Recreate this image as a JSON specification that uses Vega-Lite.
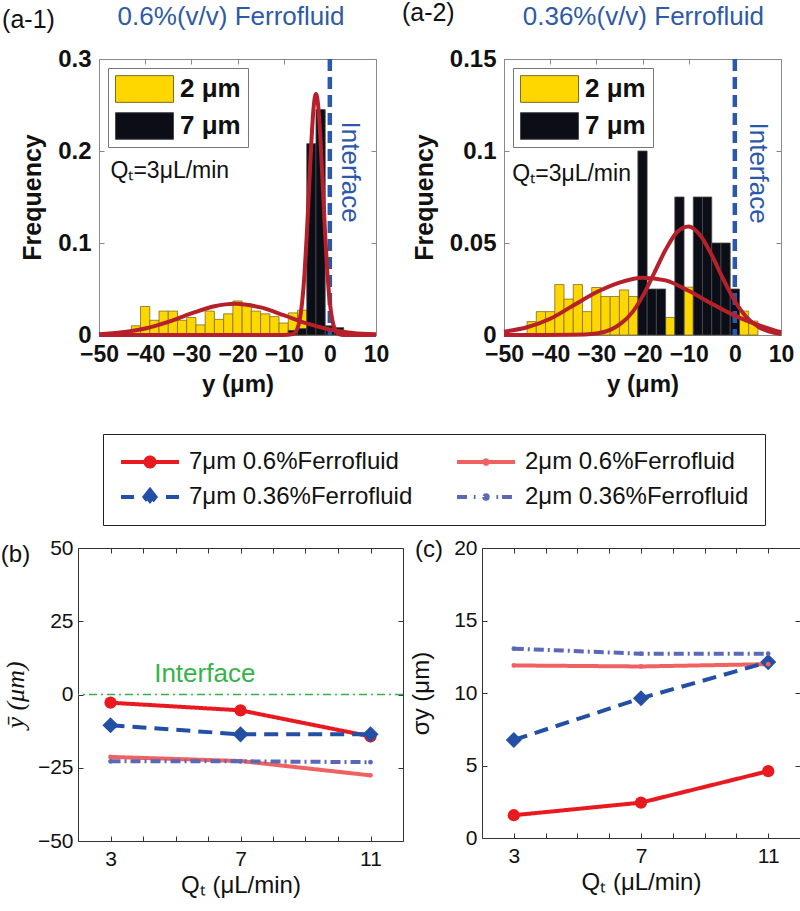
{
  "$schema": "https://vega.github.io/schema/vega-lite/v6.json",
  "padding": 0,
  "background": "white",
  "spacing": 36,
  "datasets": {
    "hist1": [
      {"s": "2 μm", "lo": -43, "hi": -41, "f": 0.010},
      {"s": "2 μm", "lo": -41, "hi": -39, "f": 0.031},
      {"s": "2 μm", "lo": -39, "hi": -37, "f": 0.016},
      {"s": "2 μm", "lo": -37, "hi": -35, "f": 0.026},
      {"s": "2 μm", "lo": -35, "hi": -33, "f": 0.026},
      {"s": "2 μm", "lo": -33, "hi": -31, "f": 0.016},
      {"s": "2 μm", "lo": -31, "hi": -29, "f": 0.019},
      {"s": "2 μm", "lo": -29, "hi": -27, "f": 0.011},
      {"s": "2 μm", "lo": -27, "hi": -25, "f": 0.026},
      {"s": "2 μm", "lo": -25, "hi": -23, "f": 0.017},
      {"s": "2 μm", "lo": -23, "hi": -21, "f": 0.023},
      {"s": "2 μm", "lo": -21, "hi": -19, "f": 0.037},
      {"s": "2 μm", "lo": -19, "hi": -17, "f": 0.034},
      {"s": "2 μm", "lo": -17, "hi": -15, "f": 0.026},
      {"s": "2 μm", "lo": -15, "hi": -13, "f": 0.023},
      {"s": "2 μm", "lo": -13, "hi": -11, "f": 0.020},
      {"s": "2 μm", "lo": -11, "hi": -9, "f": 0.013},
      {"s": "2 μm", "lo": -9, "hi": -7, "f": 0.024},
      {"s": "2 μm", "lo": -7, "hi": -5, "f": 0.027},
      {"s": "7 μm", "lo": -9, "hi": -7, "f": 0.005},
      {"s": "7 μm", "lo": -7, "hi": -5, "f": 0.007},
      {"s": "7 μm", "lo": -5, "hi": -3, "f": 0.208},
      {"s": "7 μm", "lo": -3, "hi": -1, "f": 0.245},
      {"s": "7 μm", "lo": -1, "hi": 1, "f": 0.010},
      {"s": "7 μm", "lo": 1, "hi": 3, "f": 0.008}
    ],
    "hist2": [
      {"s": "2 μm", "lo": -45, "hi": -43, "f": 0.0073},
      {"s": "2 μm", "lo": -43, "hi": -41, "f": 0.0127},
      {"s": "2 μm", "lo": -41, "hi": -39, "f": 0.0127},
      {"s": "2 μm", "lo": -39, "hi": -37, "f": 0.0274},
      {"s": "2 μm", "lo": -37, "hi": -35, "f": 0.0195},
      {"s": "2 μm", "lo": -35, "hi": -33, "f": 0.0274},
      {"s": "2 μm", "lo": -33, "hi": -31, "f": 0.0127},
      {"s": "2 μm", "lo": -31, "hi": -29, "f": 0.0258},
      {"s": "2 μm", "lo": -29, "hi": -27, "f": 0.0209},
      {"s": "2 μm", "lo": -27, "hi": -25, "f": 0.0209},
      {"s": "2 μm", "lo": -25, "hi": -23, "f": 0.0245},
      {"s": "2 μm", "lo": -23, "hi": -21, "f": 0.0209},
      {"s": "2 μm", "lo": -15, "hi": -13, "f": 0.0095},
      {"s": "2 μm", "lo": -11, "hi": -9, "f": 0.026},
      {"s": "2 μm", "lo": 1, "hi": 3, "f": 0.013},
      {"s": "2 μm", "lo": 3, "hi": 5, "f": 0.0076},
      {"s": "7 μm", "lo": -21, "hi": -19, "f": 0.1},
      {"s": "7 μm", "lo": -19, "hi": -17, "f": 0.025},
      {"s": "7 μm", "lo": -17, "hi": -15, "f": 0.025},
      {"s": "7 μm", "lo": -13, "hi": -11, "f": 0.075},
      {"s": "7 μm", "lo": -9, "hi": -7, "f": 0.075},
      {"s": "7 μm", "lo": -7, "hi": -5, "f": 0.075},
      {"s": "7 μm", "lo": -5, "hi": -3, "f": 0.05},
      {"s": "7 μm", "lo": -3, "hi": -1, "f": 0.05},
      {"s": "7 μm", "lo": -1, "hi": 1, "f": 0.025}
    ],
    "fit1": [
      {"s": "2 μm", "x": -50, "f": 0.0009},
      {"s": "2 μm", "x": -45, "f": 0.0029},
      {"s": "2 μm", "x": -40, "f": 0.0071},
      {"s": "2 μm", "x": -35, "f": 0.0143},
      {"s": "2 μm", "x": -30, "f": 0.0234},
      {"s": "2 μm", "x": -25, "f": 0.0313},
      {"s": "2 μm", "x": -20.5, "f": 0.034},
      {"s": "2 μm", "x": -15, "f": 0.030},
      {"s": "2 μm", "x": -10, "f": 0.0216},
      {"s": "2 μm", "x": -5, "f": 0.0126},
      {"s": "2 μm", "x": 0, "f": 0.006},
      {"s": "2 μm", "x": 5, "f": 0.0023},
      {"s": "2 μm", "x": 10, "f": 0.0007},
      {"s": "7 μm", "x": -50, "f": 0},
      {"s": "7 μm", "x": -10, "f": 0},
      {"s": "7 μm", "x": -8, "f": 0.001},
      {"s": "7 μm", "x": -7, "f": 0.0075},
      {"s": "7 μm", "x": -6.5, "f": 0.0172},
      {"s": "7 μm", "x": -6, "f": 0.0355},
      {"s": "7 μm", "x": -5.5, "f": 0.065},
      {"s": "7 μm", "x": -5, "f": 0.108},
      {"s": "7 μm", "x": -4.5, "f": 0.159},
      {"s": "7 μm", "x": -4, "f": 0.210},
      {"s": "7 μm", "x": -3.5, "f": 0.248},
      {"s": "7 μm", "x": -3, "f": 0.262},
      {"s": "7 μm", "x": -2.5, "f": 0.248},
      {"s": "7 μm", "x": -2, "f": 0.210},
      {"s": "7 μm", "x": -1.5, "f": 0.159},
      {"s": "7 μm", "x": -1, "f": 0.108},
      {"s": "7 μm", "x": -0.5, "f": 0.065},
      {"s": "7 μm", "x": 0, "f": 0.0355},
      {"s": "7 μm", "x": 0.5, "f": 0.0172},
      {"s": "7 μm", "x": 1, "f": 0.0075},
      {"s": "7 μm", "x": 2, "f": 0.001},
      {"s": "7 μm", "x": 3, "f": 0},
      {"s": "7 μm", "x": 10, "f": 0}
    ],
    "fit2": [
      {"s": "2 μm", "x": -50, "f": 0.0018},
      {"s": "2 μm", "x": -45, "f": 0.0042},
      {"s": "2 μm", "x": -40, "f": 0.0088},
      {"s": "2 μm", "x": -35, "f": 0.0160},
      {"s": "2 μm", "x": -30, "f": 0.0232},
      {"s": "2 μm", "x": -25, "f": 0.0285},
      {"s": "2 μm", "x": -20, "f": 0.0311},
      {"s": "2 μm", "x": -15, "f": 0.0297},
      {"s": "2 μm", "x": -10, "f": 0.0240},
      {"s": "2 μm", "x": -5, "f": 0.0170},
      {"s": "2 μm", "x": 0, "f": 0.0105},
      {"s": "2 μm", "x": 5, "f": 0.0055},
      {"s": "2 μm", "x": 10, "f": 0.0015},
      {"s": "7 μm", "x": -50, "f": 0},
      {"s": "7 μm", "x": -35, "f": 0.0001},
      {"s": "7 μm", "x": -30, "f": 0.0008},
      {"s": "7 μm", "x": -27, "f": 0.0028},
      {"s": "7 μm", "x": -25, "f": 0.0056},
      {"s": "7 μm", "x": -22, "f": 0.013},
      {"s": "7 μm", "x": -20, "f": 0.021},
      {"s": "7 μm", "x": -17.5, "f": 0.0335},
      {"s": "7 μm", "x": -15, "f": 0.0463},
      {"s": "7 μm", "x": -12.5, "f": 0.056},
      {"s": "7 μm", "x": -10, "f": 0.059},
      {"s": "7 μm", "x": -7.5, "f": 0.0542},
      {"s": "7 μm", "x": -5, "f": 0.0434},
      {"s": "7 μm", "x": -2.5, "f": 0.0303},
      {"s": "7 μm", "x": 0, "f": 0.0185},
      {"s": "7 μm", "x": 2.5, "f": 0.0098},
      {"s": "7 μm", "x": 5, "f": 0.0046},
      {"s": "7 μm", "x": 7.5, "f": 0.0018},
      {"s": "7 μm", "x": 10, "f": 0.0006}
    ],
    "stats": [
      {"series": "2μm 0.6%Ferrofluid", "Qt": 3, "mean": -21.3, "sigma": 11.9},
      {"series": "2μm 0.6%Ferrofluid", "Qt": 7, "mean": -22.7, "sigma": 11.83},
      {"series": "2μm 0.6%Ferrofluid", "Qt": 11, "mean": -27.6, "sigma": 11.99},
      {"series": "2μm 0.36%Ferrofluid", "Qt": 3, "mean": -22.8, "sigma": 13.06},
      {"series": "2μm 0.36%Ferrofluid", "Qt": 7, "mean": -22.8, "sigma": 12.71},
      {"series": "2μm 0.36%Ferrofluid", "Qt": 11, "mean": -23.1, "sigma": 12.71},
      {"series": "7μm 0.6%Ferrofluid", "Qt": 3, "mean": -2.8, "sigma": 1.57},
      {"series": "7μm 0.6%Ferrofluid", "Qt": 7, "mean": -5.4, "sigma": 2.44},
      {"series": "7μm 0.6%Ferrofluid", "Qt": 11, "mean": -14.3, "sigma": 4.61},
      {"series": "7μm 0.36%Ferrofluid", "Qt": 3, "mean": -10.5, "sigma": 6.76},
      {"series": "7μm 0.36%Ferrofluid", "Qt": 7, "mean": -13.6, "sigma": 9.64},
      {"series": "7μm 0.36%Ferrofluid", "Qt": 11, "mean": -13.6, "sigma": 12.13}
    ]
  },
  "config": {
    "font": "Liberation Sans",
    "view": {"stroke": "#888"},
    "axis": {"grid": false, "domain": false, "labelFont": "Liberation Sans", "titleFont": "Liberation Sans", "labelColor": "#111", "titleColor": "#111", "labelFlush": false, "labelOverlap": false, "tickSize": -5, "tickWidth": 1},
    "text": {"font": "Liberation Sans"}
  },
  "vconcat": [
    {
      "hconcat": [
        {
          "width": 1, "height": 1,
          "view": {"stroke": null},
          "data": {"values": [{}]},
          "mark": {"type": "text"},
          "encoding": {"text": {"value": ""}}
        },
        {
          "hconcat": [
            {
              "width": 277, "height": 276,
              "view": {"stroke": "#8a8a8a"},
              "resolve": {"axis": {"x": "independent", "y": "independent"}},
              "layer": [
                {
                  "data": {"name": "hist1"},
                  "mark": {"type": "bar", "strokeWidth": 0.8},
                  "encoding": {
                    "x": {"field": "lo", "type": "quantitative", "scale": {"domain": [-50, 10], "nice": false, "zero": false},
                      "axis": {"orient": "bottom", "values": [-50, -40, -30, -20, -10, 0, 10], "title": "y (μm)", "titleFontSize": 24, "titleFontWeight": "bold", "labelFontSize": 23, "labelFontWeight": "bold", "labelPadding": 13, "titlePadding": 6, "tickColor": "#888"}},
                    "x2": {"field": "hi"},
                    "y": {"field": "f", "type": "quantitative", "scale": {"domain": [0, 0.3], "nice": false, "zero": false},
                      "axis": {"orient": "left", "values": [0, 0.1, 0.2, 0.3], "format": ".2~f", "title": "Frequency", "titleFontSize": 25, "titleFontWeight": "bold", "labelFontSize": 24, "labelFontWeight": "bold", "labelPadding": 13, "titlePadding": 12, "tickColor": "#888"}},
                    "y2": {"datum": 0},
                    "fill": {"field": "s", "type": "nominal", "scale": {"domain": ["2 μm", "7 μm"], "range": ["#ffd700", "#0b0d17"]},
                      "legend": {"orient": "top-left", "offset": 9, "title": null, "symbolType": "M-1,-0.46H1V0.46H-1Z", "symbolSize": 3364, "symbolStrokeColor": "#444", "symbolStrokeWidth": 1, "labelFontSize": 26, "labelFontWeight": "bold", "labelColor": "#111", "labelFont": "Liberation Sans", "labelOffset": 6, "padding": 7, "rowPadding": 9, "clipHeight": 28, "strokeColor": "#777", "fillColor": "white"}},
                    "stroke": {"field": "s", "type": "nominal", "scale": {"domain": ["2 μm", "7 μm"], "range": ["#7d6d1a", "#4a4a4a"]}, "legend": null}
                  }
                },
                {
                  "data": {"values": [{}]},
                  "mark": {"type": "rule", "color": "#2c58ab", "strokeWidth": 4.5, "strokeDash": [12, 6]},
                  "encoding": {"x": {"datum": 0, "scale": {"domain": [-50, 10], "nice": false, "zero": false}, "axis": null}}
                },
                {
                  "data": {"name": "fit1"},
                  "mark": {"type": "line", "color": "#b5202a", "strokeWidth": 4, "interpolate": "monotone"},
                  "encoding": {
                    "x": {"field": "x", "type": "quantitative", "scale": {"domain": [-50, 10], "nice": false, "zero": false},
                      "axis": {"orient": "top", "values": [-50, -40, -30, -20, -10, 0, 10], "labels": false, "title": null, "tickColor": "#888"}},
                    "y": {"field": "f", "type": "quantitative", "scale": {"domain": [0, 0.3], "nice": false, "zero": false},
                      "axis": {"orient": "right", "values": [0, 0.1, 0.2, 0.3], "labels": false, "title": null, "tickColor": "#888"}},
                    "detail": {"field": "s"}
                  }
                },
                {
                  "data": {"values": [{}]},
                  "mark": {"type": "text", "fontSize": 23, "color": "#111", "align": "left", "baseline": "middle"},
                  "encoding": {
                    "x": {"datum": -47.5, "scale": {"domain": [-50, 10], "nice": false, "zero": false}, "axis": null},
                    "y": {"datum": 0.178, "scale": {"domain": [0, 0.3], "nice": false, "zero": false}, "axis": null},
                    "text": {"value": "Qₜ=3μL/min"}
                  }
                },
                {
                  "data": {"values": [{}]},
                  "mark": {"type": "text", "fontSize": 26, "color": "#2c58ab", "align": "center", "baseline": "middle", "angle": 90},
                  "encoding": {
                    "x": {"datum": 4.4, "scale": {"domain": [-50, 10], "nice": false, "zero": false}, "axis": null},
                    "y": {"datum": 0.177, "scale": {"domain": [0, 0.3], "nice": false, "zero": false}, "axis": null},
                    "text": {"value": "Interface"}
                  }
                },
                {
                  "data": {"values": [{}]},
                  "mark": {"type": "text", "fontSize": 25, "color": "#111", "align": "center", "baseline": "middle"},
                  "encoding": {
                    "x": {"datum": -65.27, "scale": {"domain": [-50, 10], "nice": false, "zero": false}, "axis": null},
                    "y": {"datum": 0.342, "scale": {"domain": [0, 0.3], "nice": false, "zero": false}, "axis": null},
                    "text": {"value": "(a-1)"}
                  }
                },
                {
                  "data": {"values": [{}]},
                  "mark": {"type": "text", "fontSize": 26, "color": "#2e5aa8", "align": "center", "baseline": "middle"},
                  "encoding": {
                    "x": {"datum": -21.4, "scale": {"domain": [-50, 10], "nice": false, "zero": false}, "axis": null},
                    "y": {"datum": 0.3457, "scale": {"domain": [0, 0.3], "nice": false, "zero": false}, "axis": null},
                    "text": {"value": "0.6%(v/v) Ferrofluid"}
                  }
                }
              ]
            },
            {
              "width": 277, "height": 276,
              "view": {"stroke": "#8a8a8a"},
              "resolve": {"axis": {"x": "independent", "y": "independent"}},
              "layer": [
                {
                  "data": {"name": "hist2"},
                  "mark": {"type": "bar", "strokeWidth": 0.8},
                  "encoding": {
                    "x": {"field": "lo", "type": "quantitative", "scale": {"domain": [-50, 10], "nice": false, "zero": false},
                      "axis": {"orient": "bottom", "values": [-50, -40, -30, -20, -10, 0, 10], "title": "y (μm)", "titleFontSize": 24, "titleFontWeight": "bold", "labelFontSize": 23, "labelFontWeight": "bold", "labelPadding": 13, "titlePadding": 6, "tickColor": "#888"}},
                    "x2": {"field": "hi"},
                    "y": {"field": "f", "type": "quantitative", "scale": {"domain": [0, 0.15], "nice": false, "zero": false},
                      "axis": {"orient": "left", "values": [0, 0.05, 0.1, 0.15], "format": ".2~f", "title": "Frequency", "titleFontSize": 25, "titleFontWeight": "bold", "labelFontSize": 24, "labelFontWeight": "bold", "labelPadding": 13, "titlePadding": 12, "tickColor": "#888"}},
                    "y2": {"datum": 0},
                    "fill": {"field": "s", "type": "nominal", "scale": {"domain": ["2 μm", "7 μm"], "range": ["#ffd700", "#0b0d17"]},
                      "legend": {"orient": "top-left", "offset": 9, "title": null, "symbolType": "M-1,-0.46H1V0.46H-1Z", "symbolSize": 3364, "symbolStrokeColor": "#444", "symbolStrokeWidth": 1, "labelFontSize": 26, "labelFontWeight": "bold", "labelColor": "#111", "labelFont": "Liberation Sans", "labelOffset": 6, "padding": 7, "rowPadding": 9, "clipHeight": 28, "strokeColor": "#777", "fillColor": "white"}},
                    "stroke": {"field": "s", "type": "nominal", "scale": {"domain": ["2 μm", "7 μm"], "range": ["#7d6d1a", "#4a4a4a"]}, "legend": null}
                  }
                },
                {
                  "data": {"values": [{}]},
                  "mark": {"type": "rule", "color": "#2c58ab", "strokeWidth": 4.5, "strokeDash": [12, 6]},
                  "encoding": {"x": {"datum": 0, "scale": {"domain": [-50, 10], "nice": false, "zero": false}, "axis": null}}
                },
                {
                  "data": {"name": "fit2"},
                  "mark": {"type": "line", "color": "#b5202a", "strokeWidth": 4, "interpolate": "monotone"},
                  "encoding": {
                    "x": {"field": "x", "type": "quantitative", "scale": {"domain": [-50, 10], "nice": false, "zero": false},
                      "axis": {"orient": "top", "values": [-50, -40, -30, -20, -10, 0, 10], "labels": false, "title": null, "tickColor": "#888"}},
                    "y": {"field": "f", "type": "quantitative", "scale": {"domain": [0, 0.15], "nice": false, "zero": false},
                      "axis": {"orient": "right", "values": [0, 0.05, 0.1, 0.15], "labels": false, "title": null, "tickColor": "#888"}},
                    "detail": {"field": "s"}
                  }
                },
                {
                  "data": {"values": [{}]},
                  "mark": {"type": "text", "fontSize": 23, "color": "#111", "align": "left", "baseline": "middle"},
                  "encoding": {
                    "x": {"datum": -48.2, "scale": {"domain": [-50, 10], "nice": false, "zero": false}, "axis": null},
                    "y": {"datum": 0.0875, "scale": {"domain": [0, 0.15], "nice": false, "zero": false}, "axis": null},
                    "text": {"value": "Qₜ=3μL/min"}
                  }
                },
                {
                  "data": {"values": [{}]},
                  "mark": {"type": "text", "fontSize": 26, "color": "#2c58ab", "align": "center", "baseline": "middle", "angle": 90},
                  "encoding": {
                    "x": {"datum": 5.0, "scale": {"domain": [-50, 10], "nice": false, "zero": false}, "axis": null},
                    "y": {"datum": 0.088, "scale": {"domain": [0, 0.15], "nice": false, "zero": false}, "axis": null},
                    "text": {"value": "Interface"}
                  }
                },
                {
                  "data": {"values": [{}]},
                  "mark": {"type": "text", "fontSize": 25, "color": "#111", "align": "center", "baseline": "middle"},
                  "encoding": {
                    "x": {"datum": -66.4, "scale": {"domain": [-50, 10], "nice": false, "zero": false}, "axis": null},
                    "y": {"datum": 0.175, "scale": {"domain": [0, 0.15], "nice": false, "zero": false}, "axis": null},
                    "text": {"value": "(a-2)"}
                  }
                },
                {
                  "data": {"values": [{}]},
                  "mark": {"type": "text", "fontSize": 26, "color": "#2e5aa8", "align": "center", "baseline": "middle"},
                  "encoding": {
                    "x": {"datum": -19.8, "scale": {"domain": [-50, 10], "nice": false, "zero": false}, "axis": null},
                    "y": {"datum": 0.1728, "scale": {"domain": [0, 0.15], "nice": false, "zero": false}, "axis": null},
                    "text": {"value": "0.36%(v/v) Ferrofluid"}
                  }
                }
              ]
            }
          ],
          "spacing": 128,
          "bounds": "flush",
          "resolve": {"scale": {"fill": "independent", "stroke": "independent", "x": "independent", "y": "independent"}, "legend": {"fill": "independent"}}
        }
      ],
      "spacing": 20,
      "bounds": "flush",
      "resolve": {"scale": {"fill": "independent", "stroke": "independent", "x": "independent", "y": "independent"}, "legend": {"fill": "independent"}}
    },
    {
      "hconcat": [
        {
          "width": 325, "height": 293,
          "view": {"stroke": "#333"},
          "resolve": {"axis": {"x": "independent", "y": "independent"}},
          "layer": [
            {
              "data": {"values": [{}]},
              "mark": {"type": "rule", "color": "#36b34a", "strokeWidth": 1.5, "strokeDash": [8, 4, 2, 4]},
              "encoding": {"y": {"datum": 0, "scale": {"domain": [-50, 50], "nice": false, "zero": false}, "axis": null}}
            },
            {
              "data": {"name": "stats"},
              "mark": {"type": "line"},
              "encoding": {
                "x": {"field": "Qt", "type": "quantitative", "scale": {"domain": [2, 12], "nice": false, "zero": false},
                  "axis": {"orient": "bottom", "values": [3, 4, 5, 6, 7, 8, 9, 10, 11], "labelExpr": "(datum.value == 3 || datum.value == 7 || datum.value == 11) ? datum.label : ''", "title": "Qₜ (μL/min)", "labelFontSize": 21, "titleFontSize": 24, "titleFontWeight": "normal", "labelPadding": 12, "titlePadding": 4, "tickColor": "#333"}},
                "y": {"field": "mean", "type": "quantitative", "scale": {"domain": [-50, 50], "nice": false, "zero": false},
                  "axis": {"orient": "left", "values": [-50, -25, 0, 25, 50], "title": "ȳ (μm)", "titleFont": "Liberation Serif", "titleFontStyle": "italic", "titleFontWeight": "normal", "titleFontSize": 26, "labelFontSize": 21, "labelPadding": 10, "titlePadding": 9, "tickColor": "#333"}},
                "color": {"field": "series", "type": "nominal",
                  "scale": {"domain": ["7μm 0.6%Ferrofluid", "7μm 0.36%Ferrofluid", "2μm 0.6%Ferrofluid", "2μm 0.36%Ferrofluid"], "range": ["#e8191f", "#2350a5", "#f06262", "#5b68b5"]},
                  "legend": {"orient": "none", "legendX": 25, "legendY": -114, "columns": 2, "title": null, "padding": 16, "columnPadding": 42, "rowPadding": 11, "clipHeight": 24, "symbolOpacity": 1, "symbolStrokeWidth": 3, "labelFont": "Liberation Sans", "labelFontSize": 24, "labelColor": "#111", "labelOffset": 8, "labelLimit": 0, "strokeColor": "#222", "fillColor": "white"}},
                "strokeDash": {"field": "series", "type": "nominal",
                  "scale": {"domain": ["7μm 0.6%Ferrofluid", "7μm 0.36%Ferrofluid", "2μm 0.6%Ferrofluid", "2μm 0.36%Ferrofluid"], "range": [[1, 0], [14, 8], [1, 0], [10, 4, 2, 4]]}, "legend": null},
                "strokeWidth": {"field": "series", "type": "ordinal",
                  "scale": {"domain": ["7μm 0.6%Ferrofluid", "7μm 0.36%Ferrofluid", "2μm 0.6%Ferrofluid", "2μm 0.36%Ferrofluid"], "range": [4, 4, 1.5, 1.5]}, "legend": null}
              }
            },
            {
              "data": {"name": "stats"},
              "mark": {"type": "point", "filled": true, "opacity": 0},
              "encoding": {
                "x": {"field": "Qt", "type": "quantitative", "scale": {"domain": [2, 12], "nice": false, "zero": false}, "axis": null},
                "y": {"field": "mean", "type": "quantitative", "scale": {"domain": [-50, 50], "nice": false, "zero": false}, "axis": null},
                "color": {"field": "series", "type": "nominal",
                  "scale": {"domain": ["7μm 0.6%Ferrofluid", "7μm 0.36%Ferrofluid", "2μm 0.6%Ferrofluid", "2μm 0.36%Ferrofluid"], "range": ["#e8191f", "#2350a5", "#f06262", "#5b68b5"]}},
                "shape": {"field": "series", "type": "nominal",
                  "scale": {"domain": ["7μm 0.6%Ferrofluid", "7μm 0.36%Ferrofluid", "2μm 0.6%Ferrofluid", "2μm 0.36%Ferrofluid"],
                    "range": ["M-1,0H1M-0.155,0A0.155,0.155,0,1,0,0.155,0A0.155,0.155,0,1,0,-0.155,0Z", "M-1,0H-0.55M0.55,0H1M0,-0.24L0.19,0L0,0.24L-0.19,0Z", "M-1,0H1M-0.06,0A0.06,0.06,0,1,0,0.06,0A0.06,0.06,0,1,0,-0.06,0Z", "M-1,0H-0.55M-0.42,0H-0.36M0.36,0H0.42M0.55,0H1M-0.06,0A0.06,0.06,0,1,0,0.06,0A0.06,0.06,0,1,0,-0.06,0Z"]}, "legend": null},
                "size": {"field": "series", "type": "ordinal",
                  "scale": {"domain": ["7μm 0.6%Ferrofluid", "7μm 0.36%Ferrofluid", "2μm 0.6%Ferrofluid", "2μm 0.36%Ferrofluid"], "range": [3364, 3364, 3364, 3364]}, "legend": null}
              }
            },
            {
              "data": {"name": "stats"},
              "transform": [{"filter": "datum.series === '2μm 0.6%Ferrofluid'"}],
              "mark": {"type": "point", "filled": true, "opacity": 1, "shape": "circle", "size": 22, "color": "#f06262"},
              "encoding": {
                "x": {"field": "Qt", "type": "quantitative", "scale": {"domain": [2, 12], "nice": false, "zero": false},
                  "axis": {"orient": "top", "values": [3, 4, 5, 6, 7, 8, 9, 10, 11], "labels": false, "title": null, "tickColor": "#333"}},
                "y": {"field": "mean", "type": "quantitative", "scale": {"domain": [-50, 50], "nice": false, "zero": false},
                  "axis": {"orient": "right", "values": [-50, -25, 0, 25, 50], "labels": false, "title": null, "tickColor": "#333"}}
              }
            },
            {
              "data": {"name": "stats"},
              "transform": [{"filter": "datum.series === '2μm 0.36%Ferrofluid'"}],
              "mark": {"type": "point", "filled": true, "opacity": 1, "shape": "circle", "size": 22, "color": "#5b68b5"},
              "encoding": {
                "x": {"field": "Qt", "type": "quantitative", "scale": {"domain": [2, 12], "nice": false, "zero": false}, "axis": null},
                "y": {"field": "mean", "type": "quantitative", "scale": {"domain": [-50, 50], "nice": false, "zero": false}, "axis": null}
              }
            },
            {
              "data": {"name": "stats"},
              "transform": [{"filter": "datum.series === '7μm 0.6%Ferrofluid'"}],
              "mark": {"type": "point", "filled": true, "opacity": 1, "shape": "circle", "size": 150, "color": "#e8191f"},
              "encoding": {
                "x": {"field": "Qt", "type": "quantitative", "scale": {"domain": [2, 12], "nice": false, "zero": false}, "axis": null},
                "y": {"field": "mean", "type": "quantitative", "scale": {"domain": [-50, 50], "nice": false, "zero": false}, "axis": null}
              }
            },
            {
              "data": {"name": "stats"},
              "transform": [{"filter": "datum.series === '7μm 0.36%Ferrofluid'"}],
              "mark": {"type": "point", "filled": true, "opacity": 1, "shape": "diamond", "size": 260, "color": "#2350a5"},
              "encoding": {
                "x": {"field": "Qt", "type": "quantitative", "scale": {"domain": [2, 12], "nice": false, "zero": false}, "axis": null},
                "y": {"field": "mean", "type": "quantitative", "scale": {"domain": [-50, 50], "nice": false, "zero": false}, "axis": null}
              }
            },
            {
              "data": {"values": [{}]},
              "mark": {"type": "text", "fontSize": 26, "color": "#36b34a", "align": "center", "baseline": "middle"},
              "encoding": {
                "x": {"datum": 5.9, "scale": {"domain": [2, 12], "nice": false, "zero": false}, "axis": null},
                "y": {"datum": 7.0, "scale": {"domain": [-50, 50], "nice": false, "zero": false}, "axis": null},
                "text": {"value": "Interface"}
              }
            },
            {
              "data": {"values": [{}]},
              "mark": {"type": "text", "fontSize": 24, "color": "#111", "align": "center", "baseline": "middle"},
              "encoding": {
                "x": {"datum": 0.077, "scale": {"domain": [2, 12], "nice": false, "zero": false}, "axis": null},
                "y": {"datum": 47.6, "scale": {"domain": [-50, 50], "nice": false, "zero": false}, "axis": null},
                "text": {"value": "(b)"}
              }
            }
          ]
        },
        {
          "width": 318, "height": 290,
          "view": {"stroke": "#333"},
          "resolve": {"axis": {"x": "independent", "y": "independent"}},
          "layer": [
            {
              "data": {"name": "stats"},
              "mark": {"type": "line"},
              "encoding": {
                "x": {"field": "Qt", "type": "quantitative", "scale": {"domain": [2, 12], "nice": false, "zero": false},
                  "axis": {"orient": "bottom", "values": [3, 4, 5, 6, 7, 8, 9, 10, 11], "labelExpr": "(datum.value == 3 || datum.value == 7 || datum.value == 11) ? datum.label : ''", "title": "Qₜ (μL/min)", "labelFontSize": 21, "titleFontSize": 24, "titleFontWeight": "normal", "labelPadding": 12, "titlePadding": 4, "tickColor": "#333"}},
                "y": {"field": "sigma", "type": "quantitative", "scale": {"domain": [0, 20], "nice": false, "zero": false},
                  "axis": {"orient": "left", "values": [0, 5, 10, 15, 20], "title": "σy (μm)", "titleFontWeight": "normal", "titleFontSize": 24, "labelFontSize": 21, "labelPadding": 10, "titlePadding": 20, "tickColor": "#333"}},
                "color": {"field": "series", "type": "nominal",
                  "scale": {"domain": ["7μm 0.6%Ferrofluid", "7μm 0.36%Ferrofluid", "2μm 0.6%Ferrofluid", "2μm 0.36%Ferrofluid"], "range": ["#e8191f", "#2350a5", "#f06262", "#5b68b5"]}, "legend": null},
                "strokeDash": {"field": "series", "type": "nominal",
                  "scale": {"domain": ["7μm 0.6%Ferrofluid", "7μm 0.36%Ferrofluid", "2μm 0.6%Ferrofluid", "2μm 0.36%Ferrofluid"], "range": [[1, 0], [14, 8], [1, 0], [10, 4, 2, 4]]}, "legend": null},
                "strokeWidth": {"field": "series", "type": "ordinal",
                  "scale": {"domain": ["7μm 0.6%Ferrofluid", "7μm 0.36%Ferrofluid", "2μm 0.6%Ferrofluid", "2μm 0.36%Ferrofluid"], "range": [4, 4, 1.5, 1.5]}, "legend": null}
              }
            },
            {
              "data": {"name": "stats"},
              "transform": [{"filter": "datum.series === '7μm 0.36%Ferrofluid'"}],
              "mark": {"type": "point", "filled": true, "opacity": 1, "shape": "diamond", "size": 260, "color": "#2350a5"},
              "encoding": {
                "x": {"field": "Qt", "type": "quantitative", "scale": {"domain": [2, 12], "nice": false, "zero": false},
                  "axis": {"orient": "top", "values": [3, 4, 5, 6, 7, 8, 9, 10, 11], "labels": false, "title": null, "tickColor": "#333"}},
                "y": {"field": "sigma", "type": "quantitative", "scale": {"domain": [0, 20], "nice": false, "zero": false},
                  "axis": {"orient": "right", "values": [0, 5, 10, 15, 20], "labels": false, "title": null, "tickColor": "#333"}}
              }
            },
            {
              "data": {"name": "stats"},
              "transform": [{"filter": "datum.series === '7μm 0.6%Ferrofluid'"}],
              "mark": {"type": "point", "filled": true, "opacity": 1, "shape": "circle", "size": 150, "color": "#e8191f"},
              "encoding": {
                "x": {"field": "Qt", "type": "quantitative", "scale": {"domain": [2, 12], "nice": false, "zero": false}, "axis": null},
                "y": {"field": "sigma", "type": "quantitative", "scale": {"domain": [0, 20], "nice": false, "zero": false}, "axis": null}
              }
            },
            {
              "data": {"name": "stats"},
              "transform": [{"filter": "datum.series === '2μm 0.6%Ferrofluid'"}],
              "mark": {"type": "point", "filled": true, "opacity": 1, "shape": "circle", "size": 22, "color": "#f06262"},
              "encoding": {
                "x": {"field": "Qt", "type": "quantitative", "scale": {"domain": [2, 12], "nice": false, "zero": false}, "axis": null},
                "y": {"field": "sigma", "type": "quantitative", "scale": {"domain": [0, 20], "nice": false, "zero": false}, "axis": null}
              }
            },
            {
              "data": {"name": "stats"},
              "transform": [{"filter": "datum.series === '2μm 0.36%Ferrofluid'"}],
              "mark": {"type": "point", "filled": true, "opacity": 1, "shape": "circle", "size": 22, "color": "#5b68b5"},
              "encoding": {
                "x": {"field": "Qt", "type": "quantitative", "scale": {"domain": [2, 12], "nice": false, "zero": false}, "axis": null},
                "y": {"field": "sigma", "type": "quantitative", "scale": {"domain": [0, 20], "nice": false, "zero": false}, "axis": null}
              }
            },
            {
              "data": {"values": [{}]},
              "mark": {"type": "text", "fontSize": 24, "color": "#111", "align": "center", "baseline": "middle"},
              "encoding": {
                "x": {"datum": 0.33, "scale": {"domain": [2, 12], "nice": false, "zero": false}, "axis": null},
                "y": {"datum": 19.86, "scale": {"domain": [0, 20], "nice": false, "zero": false}, "axis": null},
                "text": {"value": "(c)"}
              }
            }
          ]
        }
      ],
      "spacing": 79,
      "bounds": "flush",
      "resolve": {"scale": {"color": "independent", "strokeDash": "independent", "strokeWidth": "independent", "shape": "independent", "size": "independent", "x": "independent", "y": "independent"}, "legend": {"color": "independent"}}
    }
  ]
}
